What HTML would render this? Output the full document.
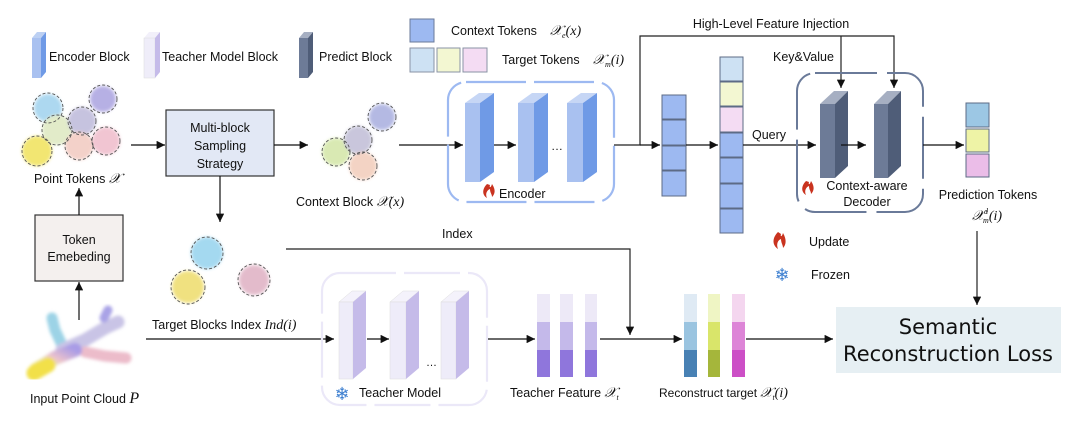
<!DOCTYPE html>
<html><head><meta charset="utf-8"><style>
html,body{margin:0;padding:0;background:#fff}
svg{display:block}
text{font-family:"Liberation Sans","DejaVu Sans",sans-serif;fill:#111}
.m{font-family:"Liberation Serif",serif;font-style:italic}
</style></head><body>
<svg width="1080" height="432" viewBox="0 0 1080 432" xmlns="http://www.w3.org/2000/svg">
<defs>
<marker id="a" viewBox="0 0 10 10" refX="10" refY="5" markerWidth="7" markerHeight="7" orient="auto"><path d="M0,0L10,5L0,10z" fill="#111"/></marker>
<linearGradient id="pl" x1="0" y1="1" x2="1" y2="0"><stop offset="0" stop-color="#f2e04a"/><stop offset=".35" stop-color="#e6e2b8"/><stop offset=".55" stop-color="#ecc2cc"/><stop offset="1" stop-color="#a99ce6"/></linearGradient>
<filter id="bl"><feGaussianBlur stdDeviation="1.5"/></filter>
</defs>
<g font-size="12.5">
<!-- legend -->
<polygon points="32,38 37,32 46,32 41,38" fill="#bcd0f3"/><rect x="32" y="38" width="9" height="40" fill="#a9c1f0"/><polygon points="41,38 46,32 46,72 41,78" fill="#6f9ae6"/>
<text x="49" y="61">Encoder Block</text>
<polygon points="144,38 149,32 160,32 155,38" fill="#f2f0fa"/><rect x="144" y="38" width="11" height="40" fill="#efedf9" stroke="#ddd" stroke-width=".5"/><polygon points="155,38 160,32 160,72 155,78" fill="#c5bbe9"/>
<text x="162" y="61">Teacher Model Block</text>
<polygon points="299,38 304,32 313,32 308,38" fill="#a6afc2"/><rect x="299" y="38" width="9" height="40" fill="#6d7b97"/><polygon points="308,38 313,32 313,72 308,78" fill="#4f5d78"/>
<text x="319" y="61">Predict Block</text>
<rect x="410" y="19" width="24" height="23" fill="#9db9f1" stroke="#6a7a99"/>
<rect x="410" y="48" width="24" height="24" fill="#cde1f3" stroke="#8a93a5"/>
<rect x="437" y="48" width="23" height="24" fill="#f3f7d2" stroke="#8a93a5"/>
<rect x="463" y="48" width="24" height="24" fill="#f4dcf3" stroke="#8a93a5"/>
<text x="451" y="35">Context Tokens</text><text x="550" y="35" class="m" font-size="14">𝒳<tspan font-size="8" dy="3">e</tspan><tspan dy="-3">(x)</tspan></text>
<text x="502" y="64">Target Tokens</text><text x="593" y="64" class="m" font-size="14">𝒳<tspan font-size="8" dy="3">m</tspan><tspan dy="-3">(i)</tspan></text>

<!-- point tokens cloud -->
<g filter="url(#bl)" opacity=".85">
<circle cx="48" cy="108" r="14" fill="#9fd2ee"/><circle cx="57" cy="130" r="15" fill="#dde8c0"/><circle cx="37" cy="151" r="15" fill="#f0e25a"/>
<circle cx="82" cy="121" r="14" fill="#bdb9da"/><circle cx="103" cy="99" r="13" fill="#aaa3e0"/><circle cx="79" cy="146" r="14" fill="#f2c9c0"/><circle cx="106" cy="141" r="14" fill="#efbccb"/>
</g>
<g fill="none" stroke="#555" stroke-dasharray="3,2" stroke-width=".9">
<circle cx="48" cy="108" r="15"/><circle cx="57" cy="130" r="15"/><circle cx="37" cy="151" r="15"/><circle cx="82" cy="121" r="14"/><circle cx="103" cy="99" r="14"/><circle cx="79" cy="146" r="14"/><circle cx="106" cy="141" r="14"/>
</g>
<text x="34" y="183">Point Tokens <tspan class="m" font-size="14">𝒳</tspan></text>

<!-- multi-block -->
<rect x="166" y="110" width="108" height="66" fill="#e2e8f5" stroke="#333" stroke-width="1.2"/>
<text x="220" y="132" text-anchor="middle">Multi-block</text><text x="220" y="150" text-anchor="middle">Sampling</text><text x="220" y="168" text-anchor="middle">Strategy</text>
<line x1="131" y1="145" x2="165" y2="145" stroke="#111" stroke-width="1.2" marker-end="url(#a)"/>
<line x1="274" y1="145" x2="308" y2="145" stroke="#111" stroke-width="1.2" marker-end="url(#a)"/>
<line x1="220" y1="176" x2="220" y2="222" stroke="#111" stroke-width="1.2" marker-end="url(#a)"/>

<!-- context block cloud -->
<g filter="url(#bl)" opacity=".85"><circle cx="336" cy="152" r="14" fill="#d3e6a6"/><circle cx="358" cy="140" r="14" fill="#c0bdd6"/><circle cx="382" cy="117" r="13" fill="#a7addf"/><circle cx="363" cy="166" r="14" fill="#f2ccba"/></g>
<g fill="none" stroke="#555" stroke-dasharray="3,2" stroke-width=".9"><circle cx="336" cy="152" r="14"/><circle cx="358" cy="140" r="14"/><circle cx="382" cy="117" r="14"/><circle cx="363" cy="166" r="14"/></g>
<text x="296" y="206">Context Block <tspan class="m" font-size="14">𝒳(x)</tspan></text>
<line x1="399" y1="145" x2="463" y2="145" stroke="#111" stroke-width="1.2" marker-end="url(#a)"/>

<!-- encoder -->
<rect x="448" y="82" width="166" height="120" rx="18" fill="none" stroke="#9db9f1" stroke-width="2.2" stroke-dasharray="60,8"/>
<g>
<polygon points="465,103 479,93 494,93 480,103" fill="#c6d6f5"/><rect x="465" y="103" width="15" height="79" fill="#a9c1f0"/><polygon points="480,103 494,93 494,172 480,182" fill="#6f9ae6"/>
<polygon points="518,103 532,93 548,93 534,103" fill="#c6d6f5"/><rect x="518" y="103" width="16" height="79" fill="#a9c1f0"/><polygon points="534,103 548,93 548,172 534,182" fill="#6f9ae6"/>
<polygon points="567,103 581,93 597,93 583,103" fill="#c6d6f5"/><rect x="567" y="103" width="16" height="79" fill="#a9c1f0"/><polygon points="583,103 597,93 597,172 583,182" fill="#6f9ae6"/>
</g>
<line x1="494" y1="145" x2="516" y2="145" stroke="#111" stroke-width="1.2" marker-end="url(#a)"/>
<text x="551" y="150" font-size="12">…</text>
<path d="M487,184 c-5,5 -5,11 0,14 c-2,-4 0,-8 3,-9 c0,4 2,5 2,8 c3,-3 4,-7 0,-13 c-1,4 -3,4 -2,1z" fill="#c9331f"/>
<text x="499" y="198">Encoder</text>

<!-- injection -->
<polyline points="614,145 640,145 640,36 894,36 894,88" fill="none" stroke="#222" stroke-width="1.2" marker-end="url(#a)"/>
<line x1="841" y1="36" x2="841" y2="88" stroke="#222" stroke-width="1.2" marker-end="url(#a)"/>
<line x1="640" y1="145" x2="660" y2="145" stroke="#111" stroke-width="1.2" marker-end="url(#a)"/>
<text x="771" y="28" text-anchor="middle">High-Level Feature Injection</text>
<text x="773" y="61">Key&amp;Value</text>

<!-- token columns -->
<g stroke="#5d6b86" stroke-width="1" fill="#9db9f1">
<rect x="662" y="95" width="24" height="24"/><rect x="662" y="120" width="24" height="25"/><rect x="662" y="146" width="24" height="24"/><rect x="662" y="171" width="24" height="25"/>
<rect x="720" y="57" width="23" height="24" fill="#cde1f3"/><rect x="720" y="82" width="23" height="24" fill="#f3f7d2"/><rect x="720" y="107" width="23" height="25" fill="#f4dcf3"/>
<rect x="720" y="133" width="23" height="24"/><rect x="720" y="158" width="23" height="25"/><rect x="720" y="184" width="23" height="24"/><rect x="720" y="209" width="23" height="24"/>
</g>
<line x1="686" y1="145" x2="718" y2="145" stroke="#111" stroke-width="1.2" marker-end="url(#a)"/>
<line x1="743" y1="145" x2="816" y2="145" stroke="#111" stroke-width="1.2" marker-end="url(#a)"/>
<text x="752" y="139">Query</text>

<!-- decoder -->
<rect x="797" y="73" width="126" height="139" rx="18" fill="none" stroke="#6a7a99" stroke-width="2" stroke-dasharray="62,10"/>
<polygon points="820,104 834,91 848,91 835,104" fill="#a6afc2"/><rect x="820" y="104" width="15" height="74" fill="#6d7b97"/><polygon points="835,104 848,91 848,166 835,178" fill="#4f5d78"/>
<polygon points="874,104 887,91 901,91 888,104" fill="#a6afc2"/><rect x="874" y="104" width="14" height="74" fill="#6d7b97"/><polygon points="888,104 901,91 901,166 888,178" fill="#4f5d78"/>
<line x1="841" y1="145" x2="866" y2="145" stroke="#111" stroke-width="1.2" marker-end="url(#a)"/>
<path d="M806,181 c-5,5 -5,11 0,14 c-2,-4 0,-8 3,-9 c0,4 2,5 2,8 c3,-3 4,-7 0,-13 c-1,4 -3,4 -2,1z" fill="#c9331f"/>
<text x="867" y="190" text-anchor="middle">Context-aware</text><text x="867" y="206" text-anchor="middle">Decoder</text>
<line x1="923" y1="145" x2="964" y2="145" stroke="#111" stroke-width="1.2" marker-end="url(#a)"/>
<rect x="966" y="103" width="23" height="24" fill="#9cc7e4" stroke="#5d6b86"/><rect x="966" y="129" width="23" height="23" fill="#eef3a6" stroke="#5d6b86"/><rect x="966" y="154" width="23" height="23" fill="#ebbde8" stroke="#5d6b86"/>
<text x="988" y="199" text-anchor="middle">Prediction Tokens</text>
<text x="972" y="220" class="m" font-size="14">𝒳<tspan font-size="8" dy="-6">d</tspan><tspan font-size="8" dx="-5" dy="9">m</tspan><tspan dy="-3">(i)</tspan></text>
<line x1="977" y1="231" x2="977" y2="305" stroke="#222" stroke-width="1.2" marker-end="url(#a)"/>

<!-- update / frozen -->
<path d="M778,232 c-6,6 -6,13 0,17 c-2,-5 0,-9 3,-10 c0,4 2,6 2,9 c3,-3 4,-8 0,-15 c-1,4 -3,4 -2,1z" fill="#c9331f"/>
<text x="809" y="246">Update</text>
<text x="782" y="281" font-size="18" text-anchor="middle" style="fill:#3d7fd0">❄</text>
<text x="811" y="279">Frozen</text>

<!-- loss -->
<rect x="836" y="307" width="225" height="66" fill="#e6eff3"/>
<text x="948" y="334" text-anchor="middle" font-size="21" style="font-family:'DejaVu Sans',sans-serif">Semantic</text>
<text x="948" y="361" text-anchor="middle" font-size="21" style="font-family:'DejaVu Sans',sans-serif">Reconstruction Loss</text>

<!-- token embedding -->
<rect x="35" y="215" width="88" height="66" fill="#f4f0ee" stroke="#333" stroke-width="1.2"/>
<text x="79" y="244" text-anchor="middle">Token</text><text x="79" y="261" text-anchor="middle">Emebeding</text>
<line x1="79" y1="215" x2="79" y2="188" stroke="#111" stroke-width="1.2" marker-end="url(#a)"/>
<line x1="79" y1="320" x2="79" y2="282" stroke="#111" stroke-width="1.2" marker-end="url(#a)"/>

<!-- plane -->
<g stroke-linecap="round" fill="none" filter="url(#bl)">
<path d="M52,318 L55,330 L62,345" stroke="#9cd3e6" stroke-width="11"/>
<path d="M62,350 L85,340 L105,328 L118,322" stroke="#c9c4e6" stroke-width="13"/>
<path d="M104,318 L108,310" stroke="#a9a3e6" stroke-width="9"/>
<path d="M85,352 L105,356 L126,358" stroke="#ecbcca" stroke-width="11"/>
<path d="M36,370 L55,358 L75,350" stroke="url(#pl)" stroke-width="14"/>
<path d="M34,373 L48,365" stroke="#f2e04a" stroke-width="15"/>
</g>
<text x="30" y="403">Input Point Cloud <tspan class="m" font-size="16">P</tspan></text>

<!-- target blocks -->
<g filter="url(#bl)" opacity=".85"><circle cx="207" cy="253" r="16" fill="#95d3ee"/><circle cx="188" cy="287" r="16" fill="#eedc6a"/><circle cx="254" cy="280" r="15" fill="#dfb0c3"/></g>
<g fill="none" stroke="#555" stroke-dasharray="3,2" stroke-width=".9"><circle cx="207" cy="253" r="16"/><circle cx="188" cy="287" r="17"/><circle cx="254" cy="280" r="16"/></g>
<text x="152" y="329">Target Blocks Index <tspan class="m" font-size="14">Ind(i)</tspan></text>
<polyline points="286,249 630,249 630,335" fill="none" stroke="#222" stroke-width="1.2" marker-end="url(#a)"/>
<text x="442" y="238">Index</text>
<line x1="146" y1="339" x2="334" y2="339" stroke="#111" stroke-width="1.2" marker-end="url(#a)"/>

<!-- teacher -->
<rect x="322" y="273" width="165" height="132" rx="18" fill="none" stroke="#ebe8f8" stroke-width="2.2" stroke-dasharray="56,8"/>
<g>
<polygon points="339,302 352,291 366,291 353,302" fill="#f4f2fb" stroke="#ddd" stroke-width=".5"/><rect x="339" y="302" width="14" height="77" fill="#eeecf9" stroke="#ddd" stroke-width=".5"/><polygon points="353,302 366,291 366,368 353,379" fill="#c5bbe9"/>
<polygon points="390,302 403,291 419,291 406,302" fill="#f4f2fb" stroke="#ddd" stroke-width=".5"/><rect x="390" y="302" width="16" height="77" fill="#eeecf9" stroke="#ddd" stroke-width=".5"/><polygon points="406,302 419,291 419,368 406,379" fill="#c5bbe9"/>
<polygon points="441,302 454,291 469,291 456,302" fill="#f4f2fb" stroke="#ddd" stroke-width=".5"/><rect x="441" y="302" width="15" height="77" fill="#eeecf9" stroke="#ddd" stroke-width=".5"/><polygon points="456,302 469,291 469,368 456,379" fill="#c5bbe9"/>
</g>
<line x1="367" y1="339" x2="389" y2="339" stroke="#111" stroke-width="1.2" marker-end="url(#a)"/>
<text x="426" y="366" font-size="11">…</text>
<text x="342" y="400" font-size="18" text-anchor="middle" style="fill:#3d7fd0">❄</text>
<text x="359" y="397">Teacher Model</text>
<line x1="488" y1="339" x2="535" y2="339" stroke="#111" stroke-width="1.2" marker-end="url(#a)"/>

<!-- teacher features -->
<g>
<rect x="537" y="294" width="13" height="28" fill="#ede9f7"/><rect x="537" y="322" width="13" height="28" fill="#c4b9ea"/><rect x="537" y="350" width="13" height="27" fill="#8f76dc"/>
<rect x="560" y="294" width="13" height="28" fill="#ede9f7"/><rect x="560" y="322" width="13" height="28" fill="#c4b9ea"/><rect x="560" y="350" width="13" height="27" fill="#8f76dc"/>
<rect x="585" y="294" width="12" height="28" fill="#ede9f7"/><rect x="585" y="322" width="12" height="28" fill="#c4b9ea"/><rect x="585" y="350" width="12" height="27" fill="#8f76dc"/>
</g>
<text x="510" y="397">Teacher Feature <tspan class="m" font-size="14">𝒳<tspan font-size="8" dy="3">t</tspan></tspan></text>
<line x1="600" y1="339" x2="682" y2="339" stroke="#111" stroke-width="1.2" marker-end="url(#a)"/>
<g>
<rect x="684" y="294" width="13" height="28" fill="#dfeaf4"/><rect x="684" y="322" width="13" height="28" fill="#9ac4e0"/><rect x="684" y="350" width="13" height="27" fill="#4881b4"/>
<rect x="708" y="294" width="12" height="28" fill="#eff5c4"/><rect x="708" y="322" width="12" height="28" fill="#d9e56a"/><rect x="708" y="350" width="12" height="27" fill="#a5b63b"/>
<rect x="732" y="294" width="13" height="28" fill="#f4d6ef"/><rect x="732" y="322" width="13" height="28" fill="#dd85d7"/><rect x="732" y="350" width="13" height="27" fill="#cc4fc6"/>
</g>
<text x="659" y="397" font-size="12">Reconstruct target <tspan class="m" font-size="14">𝒳<tspan font-size="8" dy="3">t</tspan><tspan dy="-3">(i)</tspan></tspan></text>
<line x1="746" y1="339" x2="833" y2="339" stroke="#111" stroke-width="1.2" marker-end="url(#a)"/>
</g>
</svg>
</body></html>
